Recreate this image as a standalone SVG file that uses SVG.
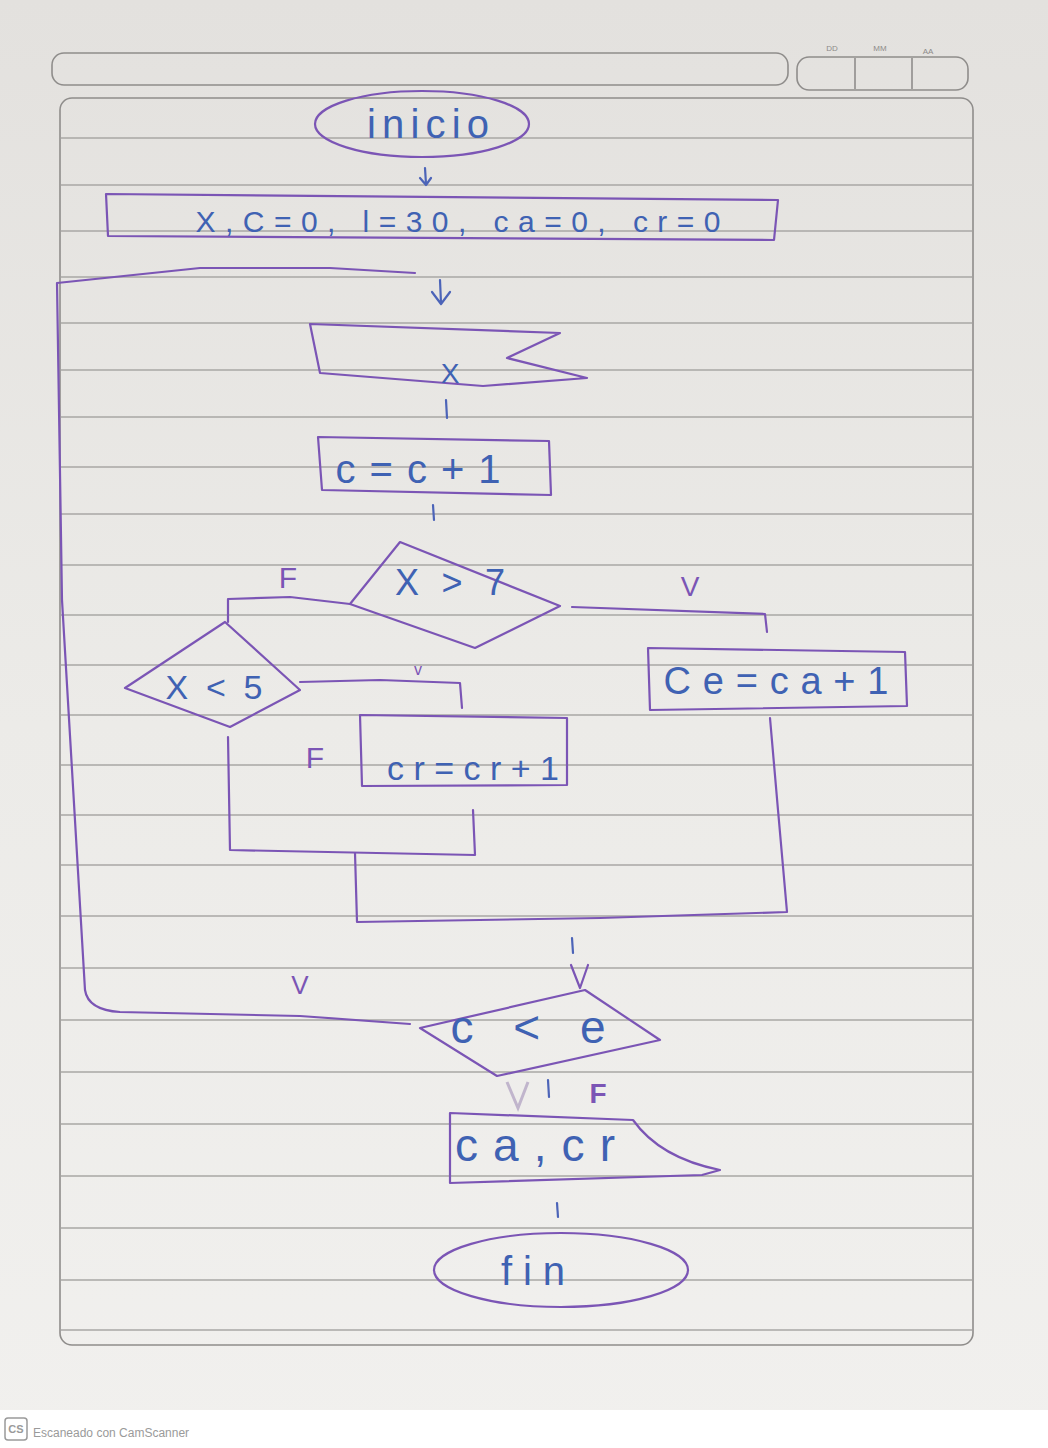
<svg xmlns="http://www.w3.org/2000/svg" width="1048" height="1448" viewBox="0 0 1048 1448">
<defs>
<linearGradient id="paper" x1="0" y1="0" x2="0" y2="1">
<stop offset="0" stop-color="#e3e1de"/>
<stop offset="0.5" stop-color="#ecebe8"/>
<stop offset="1" stop-color="#f1f0ee"/>
</linearGradient>
<style>
.ink{fill:none;stroke:#7b55b5;stroke-width:2.2;stroke-linecap:round;stroke-linejoin:round}
.blue{stroke:#4c64b8}
.rule{stroke:#a9a7a5;stroke-width:1.3}
.frame{fill:none;stroke:#8f8d8b;stroke-width:1.6}
.t{font-family:"Liberation Sans","DejaVu Sans",sans-serif;fill:#3f62b3;text-anchor:middle}
.lbl{font-family:"Liberation Sans","DejaVu Sans",sans-serif;fill:#7b55b5;text-anchor:middle}
.hdr{font-family:"Liberation Sans",sans-serif;fill:#8d8b89;font-size:8px;text-anchor:middle}
</style>
</defs>
<rect width="1048" height="1448" fill="url(#paper)"/>
<rect x="0" y="1410" width="1048" height="38" fill="#ffffff"/>
<!-- header -->
<rect class="frame" x="52" y="53" width="736" height="32" rx="12"/>
<rect class="frame" x="797" y="57" width="171" height="33" rx="12"/>
<line class="frame" x1="855" y1="58" x2="855" y2="89"/>
<line class="frame" x1="912" y1="58" x2="912" y2="89"/>
<text class="hdr" x="832" y="51">DD</text>
<text class="hdr" x="880" y="51">MM</text>
<text class="hdr" x="928" y="54">AA</text>
<!-- page -->
<rect class="frame" x="60" y="98" width="913" height="1247" rx="12"/>
<g id="ruled-lines">
<line class="rule" x1="61" y1="138" x2="972" y2="138"/>
<line class="rule" x1="61" y1="185" x2="972" y2="185"/>
<line class="rule" x1="61" y1="231" x2="972" y2="231"/>
<line class="rule" x1="61" y1="277" x2="972" y2="277"/>
<line class="rule" x1="61" y1="323" x2="972" y2="323"/>
<line class="rule" x1="61" y1="370" x2="972" y2="370"/>
<line class="rule" x1="61" y1="417" x2="972" y2="417"/>
<line class="rule" x1="61" y1="467" x2="972" y2="467"/>
<line class="rule" x1="61" y1="514" x2="972" y2="514"/>
<line class="rule" x1="61" y1="565" x2="972" y2="565"/>
<line class="rule" x1="61" y1="615" x2="972" y2="615"/>
<line class="rule" x1="61" y1="665" x2="972" y2="665"/>
<line class="rule" x1="61" y1="715" x2="972" y2="715"/>
<line class="rule" x1="61" y1="765" x2="972" y2="765"/>
<line class="rule" x1="61" y1="815" x2="972" y2="815"/>
<line class="rule" x1="61" y1="865" x2="972" y2="865"/>
<line class="rule" x1="61" y1="916" x2="972" y2="916"/>
<line class="rule" x1="61" y1="968" x2="972" y2="968"/>
<line class="rule" x1="61" y1="1020" x2="972" y2="1020"/>
<line class="rule" x1="61" y1="1072" x2="972" y2="1072"/>
<line class="rule" x1="61" y1="1124" x2="972" y2="1124"/>
<line class="rule" x1="61" y1="1176" x2="972" y2="1176"/>
<line class="rule" x1="61" y1="1228" x2="972" y2="1228"/>
<line class="rule" x1="61" y1="1280" x2="972" y2="1280"/>
<line class="rule" x1="61" y1="1330" x2="972" y2="1330"/>
</g>
<!-- connectors -->
<g id="connectors">
<path class="ink blue" d="M425 168 L426 184 M420 178 L426 185 L431 178"/>
<path class="ink" d="M415 273 L330 268 L200 268 L57 283 L62 600 L85 990 Q88 1010 120 1012 L300 1016 L410 1024"/>
<path class="ink blue" d="M440 280 L441 303 M432 292 L441 304 L450 292"/>
<path class="ink blue" d="M446 400 L447 418"/>
<path class="ink blue" d="M433 505 L434 520"/>
<path class="ink" d="M350 604 L290 597 L228 599 L228 622"/>
<path class="ink" d="M572 607 L765 614 L767 632"/>
<path class="ink" d="M300 682 L380 680 L460 683 L462 708"/>
<path class="ink" d="M228 737 L230 850 L475 855 L473 810"/>
<path class="ink" d="M355 853 L357 922 L600 918 L787 912 L778 810 L770 718"/>
<path class="ink blue" d="M572 938 L573 953"/>
<path class="ink" d="M571 965 L580 988 L588 965"/>
<path class="ink blue" d="M548 1080 L549 1097"/>
<path class="ink blue" d="M557 1203 L558 1217"/>
<path d="M507 1082 L518 1108 L528 1082" fill="none" stroke="#a28fb8" stroke-width="3" opacity="0.6"/>
</g>
<!-- labels -->
<g id="labels">
<text class="lbl" x="288" y="588" font-size="30">F</text>
<text class="lbl" x="690" y="596" font-size="28">V</text>
<text class="lbl" x="418" y="675" font-size="16">v</text>
<text class="lbl" x="315" y="768" font-size="30">F</text>
<text class="lbl" x="300" y="994" font-size="26">V</text>
<text class="lbl" x="598" y="1103" font-size="28" font-weight="bold">F</text>
</g>
<g id="inicio">
<ellipse class="ink" cx="422" cy="124" rx="107" ry="33"/>
<text class="t" x="428" y="138" font-size="40" textLength="122" lengthAdjust="spacing">inicio</text>
</g>
<g id="init">
<path class="ink" d="M106 194 L778 200 L774 240 L108 236 Z"/>
<text class="t" x="458" y="232" font-size="30" textLength="525" lengthAdjust="spacing">X,C=0, l=30, ca=0, cr=0</text>
</g>
<g id="read-x">
<path class="ink" d="M310 324 L560 333 L507 358 L587 378 L483 386 L320 373 Z"/>
<text class="t" x="450" y="383" font-size="28">X</text>
</g>
<g id="c-inc">
<path class="ink" d="M318 437 L549 441 L551 495 L322 490 Z"/>
<text class="t" x="418" y="483" font-size="40" textLength="165" lengthAdjust="spacing">c=c+1</text>
</g>
<g id="cond-x7">
<path class="ink" d="M350 604 L400 542 L560 606 L475 648 Z"/>
<text class="t" x="450" y="595" font-size="36" textLength="110" lengthAdjust="spacing">X&gt;7</text>
</g>
<g id="ca-inc">
<path class="ink" d="M648 648 L905 652 L907 706 L650 710 Z"/>
<text class="t" x="776" y="694" font-size="38" textLength="225" lengthAdjust="spacing">Ce=ca+1</text>
</g>
<g id="cond-x5">
<path class="ink" d="M125 688 L225 622 L300 690 L230 727 Z"/>
<text class="t" x="214" y="699" font-size="34" textLength="97" lengthAdjust="spacing">X&lt;5</text>
</g>
<g id="cr-inc">
<path class="ink" d="M360 715 L567 718 L567 785 L362 786 Z"/>
<text class="t" x="473" y="780" font-size="34" textLength="172" lengthAdjust="spacing">cr=cr+1</text>
</g>
<g id="cond-ce">
<path class="ink" d="M420 1028 L585 990 L660 1040 L497 1076 Z"/>
<text class="t" x="528" y="1043" font-size="46" textLength="155" lengthAdjust="spacing">c &lt; e</text>
</g>
<g id="output">
<path class="ink" d="M450 1113 L633 1120 Q660 1158 720 1170 L702 1175 L450 1183 Z"/>
<text class="t" x="535" y="1161" font-size="46" textLength="160" lengthAdjust="spacing">ca,cr</text>
</g>
<g id="fin">
<ellipse class="ink" cx="561" cy="1270" rx="127" ry="37"/>
<text class="t" x="533" y="1285" font-size="40" fill="#5f5da8" textLength="64" lengthAdjust="spacing">fin</text>
</g>
<!-- footer -->
<g id="footer">
<rect x="5" y="1418" width="22" height="22" rx="3" fill="none" stroke="#9a9a9a" stroke-width="1.5"/>
<text x="16" y="1433" font-family="Liberation Sans,sans-serif" font-size="11" font-weight="bold" fill="#9a9a9a" text-anchor="middle">CS</text>
<text x="33" y="1437" font-family="Liberation Sans,sans-serif" font-size="12" fill="#9a9a9a">Escaneado con CamScanner</text>
</g>
</svg>
